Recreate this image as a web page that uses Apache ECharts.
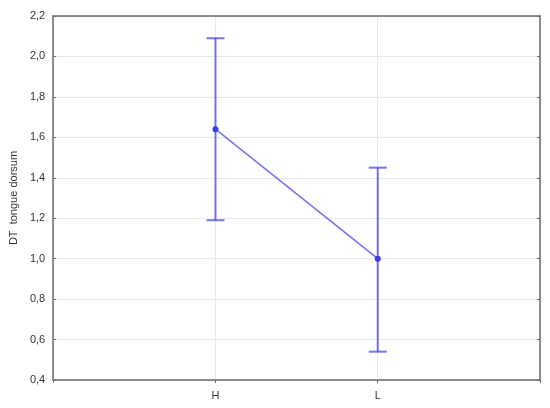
<!DOCTYPE html>
<html>
<head>
<meta charset="utf-8">
<script src="https://cdn.jsdelivr.net/npm/echarts@6/dist/echarts.min.js"></script>
<style>
  html, body { margin: 0; padding: 0; background: #fff; }
  #chartmain { width: 550px; height: 408px; }
</style>
</head>
<body>
<div id="chartmain"></div>
<script>
// groups on the x axis
var categories = ['H', 'L'];
// means with their upper / lower error bar ends
var means = [1.64, 1.0];
var upper = [2.09, 1.45];
var lower = [1.19, 0.54];
// y axis range and step
var yMin = 0.4, yMax = 2.2, yStep = 0.2;

var blue = 'rgba(70,70,235,0.75)';
var axisColor = '#6a6a6a';

var pointData = categories.map(function (c, i) { return [i + 1, means[i]]; });
var barData = categories.map(function (c, i) { return [i + 1, lower[i], upper[i]]; });

function fmtY(v) {
  return v.toFixed(1).replace('.', ',');
}

var chart = echarts.init(document.getElementById('chartmain'));
chart.setOption({
  animation: false,
  grid: { left: 48, right: 10, top: 16, bottom: 28 },
  xAxis: [{
    type: 'value',
    min: 0, max: categories.length + 1, interval: 1,
    axisLine: { show: true, lineStyle: { color: axisColor, width: 1.5 } },
    axisTick: { show: true, length: 3, lineStyle: { color: axisColor } },
    axisLabel: {
      color: '#333', fontSize: 11, fontFamily: 'Liberation Sans', margin: 10,
      formatter: function (v) { return categories[v - 1] || ''; }
    },
    splitLine: { show: true, lineStyle: { color: '#e8e8e8', width: 1 } }
  }, {
    type: 'value', position: 'top',
    min: 0, max: categories.length + 1, interval: 1,
    axisLine: { show: true, onZero: false, lineStyle: { color: axisColor, width: 1.5 } },
    axisTick: { show: false }, axisLabel: { show: false }, splitLine: { show: false }
  }],
  yAxis: [{
    type: 'value',
    min: yMin, max: yMax, interval: yStep,
    name: 'DT  tongue dorsum',
    nameLocation: 'middle', nameGap: 33, nameRotate: 90,
    nameTextStyle: { color: '#333', fontSize: 11, fontFamily: 'Liberation Sans' },
    axisLine: { show: true, lineStyle: { color: axisColor, width: 1.5 } },
    axisTick: { show: true, inside: true, length: 3, lineStyle: { color: axisColor } },
    axisLabel: { color: '#333', fontSize: 11, fontFamily: 'Liberation Sans', margin: 8, formatter: fmtY },
    splitLine: { show: true, lineStyle: { color: '#e8e8e8', width: 1 } }
  }, {
    type: 'value', position: 'right',
    min: yMin, max: yMax, interval: yStep,
    axisLine: { show: true, onZero: false, lineStyle: { color: axisColor, width: 1.5 } },
    axisTick: { show: true, inside: true, length: 3, lineStyle: { color: axisColor } },
    axisLabel: { show: false }, splitLine: { show: false }
  }],
  series: [{
    type: 'custom',
    data: barData,
    renderItem: function (params, api) {
      var x = api.value(0);
      var lo = api.coord([x, api.value(1)]);
      var hi = api.coord([x, api.value(2)]);
      var half = 9;
      var style = { stroke: blue, lineWidth: 2, fill: null };
      return {
        type: 'group',
        children: [
          { type: 'line', shape: { x1: hi[0], y1: hi[1], x2: lo[0], y2: lo[1] }, style: style },
          { type: 'line', shape: { x1: hi[0] - half, y1: hi[1], x2: hi[0] + half, y2: hi[1] }, style: style },
          { type: 'line', shape: { x1: lo[0] - half, y1: lo[1], x2: lo[0] + half, y2: lo[1] }, style: style }
        ]
      };
    },
    z: 2
  }, {
    type: 'line',
    data: pointData,
    symbol: 'circle',
    symbolSize: 6,
    lineStyle: { color: blue, width: 1.6 },
    itemStyle: { color: 'rgb(60,60,225)' },
    z: 3
  }]
});
</script>
</body>
</html>
